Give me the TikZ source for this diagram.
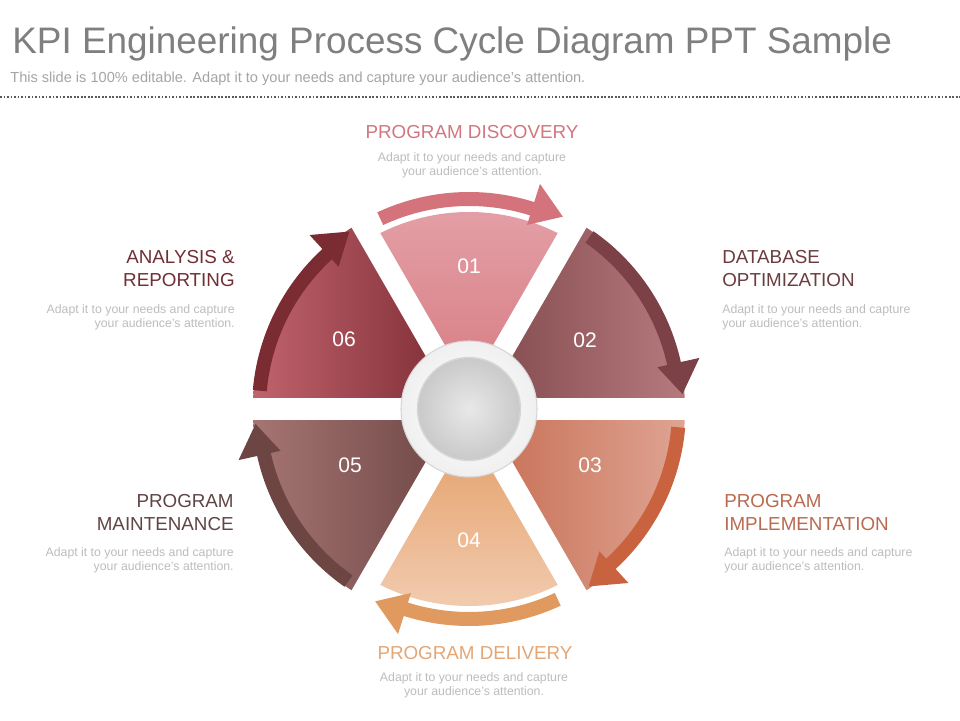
\documentclass[tikz,border=0pt]{standalone}
\usepackage{fontspec}
\setmainfont{Liberation Sans}
\definecolor{titlegray}{HTML}{7F7F7F}
\definecolor{subgray}{HTML}{A5A5A5}
\definecolor{bodygray}{HTML}{BDBDBD}
\definecolor{rulegray}{HTML}{5A5A5A}
\definecolor{discA}{HTML}{E4A0A7}
\definecolor{discB}{HTML}{D6787F}
\definecolor{discarrow}{HTML}{D4737C}
\definecolor{disclabel}{HTML}{D27680}
\definecolor{optA}{HTML}{7F474B}
\definecolor{optB}{HTML}{B57A7E}
\definecolor{optarrow}{HTML}{7B4146}
\definecolor{optlabel}{HTML}{6B3C40}
\definecolor{implA}{HTML}{C56B4F}
\definecolor{implB}{HTML}{DFA493}
\definecolor{implarrow}{HTML}{C9623F}
\definecolor{impllabel}{HTML}{BA6A50}
\definecolor{delivA}{HTML}{E39A5F}
\definecolor{delivB}{HTML}{F2CDB2}
\definecolor{delivarrow}{HTML}{E0995E}
\definecolor{delivlabel}{HTML}{E3A777}
\definecolor{maintA}{HTML}{A57573}
\definecolor{maintB}{HTML}{6A4341}
\definecolor{maintarrow}{HTML}{6D4644}
\definecolor{maintlabel}{HTML}{5F4544}
\definecolor{analA}{HTML}{C0636D}
\definecolor{analB}{HTML}{7A2931}
\definecolor{analarrow}{HTML}{7B2B32}
\definecolor{anallabel}{HTML}{702E35}
\definecolor{ringgray}{HTML}{D6D6D6}
\tikzset{
  headlabel/.style={font=\fontsize{10.7}{13}\selectfont, inner sep=0pt},
  bodytext/.style={font=\fontsize{7}{7.9}\selectfont, text=bodygray, inner sep=0pt},
  numlabel/.style={font=\fontsize{12}{14}\selectfont, text=white, inner sep=0pt},
  gapline/.style={white, line width=0.44cm},
  dotrule/.style={rulegray, line width=1pt, dash pattern=on 1pt off 1pt}
}

\begin{document}
\begin{tikzpicture}[x=0.02cm, y=0.02cm]
  \useasboundingbox[fill=white] (0,0) rectangle (960,720);

  % heading
  \node[anchor=base west, inner sep=0pt, text=titlegray, font=\fontsize{21}{25}\selectfont] (title) at (12,666) {KPI Engineering Process Cycle Diagram PPT Sample};
  \node[anchor=base west, inner sep=0pt, text=subgray, font=\fontsize{8.3}{10}\selectfont] (subtitle) at (10,637) {This slide is 100\% editable. Adapt it to your needs and capture your audience's attention.};
  \coordinate (ruleL) at (0,623);
  \coordinate (ruleR) at (960,623);
  \draw[dotrule] (ruleL) -- (ruleR);

  \begin{scope}[shift={(469,311)}]
    \coordinate (hub) at (0,0);
    % sectors
    \shade[top color=discA, bottom color=discB] (hub) -- (60:197) arc[start angle=60, end angle=120, radius=197] -- cycle;
    \shade[left color=optA, right color=optB] (hub) -- (0:216) arc[start angle=0, end angle=60, radius=216] -- cycle;
    \shade[left color=implA, right color=implB] (hub) -- (-60:216) arc[start angle=-60, end angle=0, radius=216] -- cycle;
    \shade[top color=delivA, bottom color=delivB] (hub) -- (240:197) arc[start angle=240, end angle=300, radius=197] -- cycle;
    \shade[left color=maintA, right color=maintB] (hub) -- (180:216) arc[start angle=180, end angle=240, radius=216] -- cycle;
    \shade[left color=analA, right color=analB] (hub) -- (120:216) arc[start angle=120, end angle=180, radius=216] -- cycle;

    % white gaps
    \draw[gapline] (hub) -- (0:245);
    \draw[gapline] (hub) -- (60:245);
    \draw[gapline] (hub) -- (120:245);
    \draw[gapline] (hub) -- (180:245);
    \draw[gapline] (hub) -- (240:245);
    \draw[gapline] (hub) -- (300:245);

    % curved arrows
    \fill[discarrow] (115:217) arc[start angle=115, end angle=72.5, radius=217] -- (72.5:236) -- (64:214) -- (72.5:193) -- (72.5:203) arc[start angle=72.5, end angle=115, radius=203] -- cycle;
    \fill[optarrow] (55:217) arc[start angle=55, end angle=12.5, radius=217] -- (12.5:236) -- (4:214) -- (12.5:193) -- (12.5:203) arc[start angle=12.5, end angle=55, radius=203] -- cycle;
    \fill[implarrow] (-5:217) arc[start angle=-5, end angle=-47.5, radius=217] -- (-47.5:236) -- (-56:214) -- (-47.5:193) -- (-47.5:203) arc[start angle=-47.5, end angle=-5, radius=203] -- cycle;
    \fill[delivarrow] (295:217) arc[start angle=295, end angle=252.5, radius=217] -- (252.5:236) -- (244:214) -- (252.5:193) -- (252.5:203) arc[start angle=252.5, end angle=295, radius=203] -- cycle;
    \fill[maintarrow] (235:217) arc[start angle=235, end angle=192.5, radius=217] -- (192.5:236) -- (184:214) -- (192.5:193) -- (192.5:203) arc[start angle=192.5, end angle=235, radius=203] -- cycle;
    \fill[analarrow] (175:217) arc[start angle=175, end angle=132.5, radius=217] -- (132.5:236) -- (124:214) -- (132.5:193) -- (132.5:203) arc[start angle=132.5, end angle=175, radius=203] -- cycle;

    % centre knob
    \shade[inner color=white, outer color=gray!12, draw=ringgray, line width=0.6pt] (hub) circle[radius=68];
    \shade[inner color=gray!18, outer color=gray!42] (hub) circle[radius=51];
    \draw[ringgray, line width=0.8pt] (hub) circle[radius=51.5];

    % step numbers
    \node[numlabel] (n01) at (0,143) {01};
    \node[numlabel] (n02) at (116,69) {02};
    \node[numlabel] (n03) at (121,-56) {03};
    \node[numlabel] (n04) at (0,-131) {04};
    \node[numlabel] (n05) at (-119,-56) {05};
    \node[numlabel] (n06) at (-125,70) {06};
  \end{scope}

  % labels
  \node[headlabel, text=disclabel] (discname) at (472,588) {PROGRAM DISCOVERY};
  \node[bodytext, align=center] (discnote) at (472,555) {Adapt it to your needs and capture\\ your audience's attention.};
  \node[headlabel, text=optlabel, align=left, anchor=west] (optname) at (722,451.5) {DATABASE\\ OPTIMIZATION};
  \node[bodytext, align=left, anchor=west] (optnote) at (722,403) {Adapt it to your needs and capture\\ your audience's attention.};
  \node[headlabel, text=impllabel, align=left, anchor=west] (implname) at (724,207.5) {PROGRAM\\ IMPLEMENTATION};
  \node[bodytext, align=left, anchor=west] (implnote) at (724,160) {Adapt it to your needs and capture\\ your audience's attention.};
  \node[headlabel, text=delivlabel] (delivname) at (475,67) {PROGRAM DELIVERY};
  \node[bodytext, align=center] (delivnote) at (474,34.5) {Adapt it to your needs and capture\\ your audience's attention.};
  \node[headlabel, text=maintlabel, align=right, anchor=east] (maintname) at (234,207.5) {PROGRAM\\ MAINTENANCE};
  \node[bodytext, align=right, anchor=east] (maintnote) at (234,160) {Adapt it to your needs and capture\\ your audience's attention.};
  \node[headlabel, text=anallabel, align=right, anchor=east] (analname) at (235,451.5) {ANALYSIS \&\\ REPORTING};
  \node[bodytext, align=right, anchor=east] (analnote) at (235,403) {Adapt it to your needs and capture\\ your audience's attention.};
\end{tikzpicture}
\end{document}
